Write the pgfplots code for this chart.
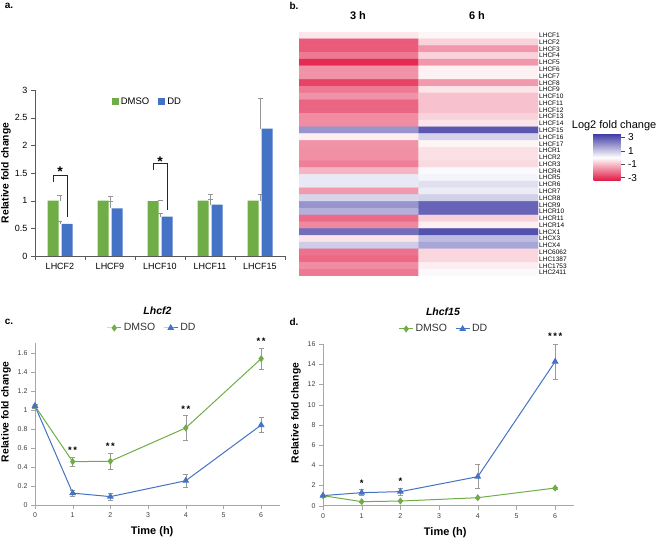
\documentclass[border=0pt]{standalone}
\usepackage{fontspec}
\setmainfont{Liberation Sans}
\usepackage{pgfplots}
\pgfplotsset{compat=1.18}
\usetikzlibrary{calc}
\definecolor{xgreen}{RGB}{112,173,71}
\definecolor{xblue}{RGB}{68,114,196}
\definecolor{errgray}{RGB}{150,150,150}
\begin{document}
\begin{tikzpicture}
\path[use as bounding box] (0,0) rectangle (657pt,538pt);
% panel labels
\node[font=\fontsize{10}{10}\selectfont\bfseries] at (9pt,532pt) {a.};
\node[font=\fontsize{10}{10}\selectfont\bfseries] at (294pt,532pt) {b.};
\node[font=\fontsize{10}{10}\selectfont\bfseries] at (9pt,216pt) {c.};
\node[font=\fontsize{10}{10}\selectfont\bfseries] at (294pt,216pt) {d.};

% ---------------- panel a ----------------
\begin{axis}[
  at={(35pt,282pt)}, anchor=south west, scale only axis,
  width=250pt, height=166pt,
  ymin=0, ymax=3, xmin=-0.5, xmax=4.5,
  axis lines*=left, axis line style={draw=black!65},
  tick style={draw=black!65}, tick align=outside, major tick length=4pt,
  ytick={0,0.5,1,1.5,2,2.5,3},
  xtick={-0.5,0.5,1.5,2.5,3.5,4.5},
  xticklabels={LHCF2,LHCF9,LHCF10,LHCF11,LHCF15},
  x tick label as interval,
  tick label style={font=\fontsize{9}{10}\selectfont},
  /pgf/number format/assume math mode=true,
  ylabel={Relative fold change},
  ylabel style={font=\fontsize{10.3}{11}\selectfont\bfseries, at={(axis description cs:-0.116,0.5)}, anchor=center},
  legend style={draw=none, fill=none, at={(axis description cs:0.45,0.93)}, anchor=center,
    legend columns=2, font=\fontsize{9.5}{10}\selectfont,
    /tikz/every even column/.append style={column sep=7pt}},
  clip=false,
]
\addplot[ybar, bar width=11pt, bar shift=-7pt, fill=xgreen, draw=none,
  legend image code/.code={\fill[xgreen] (0pt,-3.5pt) rectangle (7pt,3.5pt);},
  error bars/y dir=plus, error bars/y explicit,
  error bars/error bar style={errgray, line width=0.6pt},
  error bars/error mark options={rotate=90, errgray, mark size=2.5pt, line width=0.6pt}]
  table[x=x, y=y, y error=e] {
x y e
0 1.00 0.10
1 1.00 0.08
2 0.99 0.02
3 1.00 0.12
4 1.00 0.12
};
\addlegendentry{DMSO}
\addplot[ybar, bar width=11pt, bar shift=7pt, fill=xblue, draw=none,
  legend image code/.code={\fill[xblue] (0pt,-3.5pt) rectangle (7pt,3.5pt);},
  error bars/y dir=plus, error bars/y explicit,
  error bars/error bar style={errgray, line width=0.6pt},
  error bars/error mark options={rotate=90, errgray, mark size=2.5pt, line width=0.6pt}]
  table[x=x, y=y, y error=e] {
x y e
0 0.58 0.05
1 0.86 0.12
2 0.71 0.07
3 0.93 0.09
4 2.30 0.55
};
\addlegendentry{DD}
\draw[black!85, line width=0.8pt] (axis cs:-0.14,1.33) -- (axis cs:-0.14,1.46) -- (axis cs:0.14,1.46) -- (axis cs:0.14,0.71);
\draw[black!85, line width=0.8pt] (axis cs:1.86,1.55) -- (axis cs:1.86,1.68) -- (axis cs:2.14,1.68) -- (axis cs:2.14,0.83);
\node[font=\fontsize{14}{14}\selectfont\bfseries] at (axis cs:0,1.53) {*};
\node[font=\fontsize{14}{14}\selectfont\bfseries] at (axis cs:2,1.70) {*};
\end{axis}

% ---------------- panel b ----------------
\node[font=\fontsize{11}{11}\selectfont\bfseries] at (358pt,522pt) {3 h};
\node[font=\fontsize{11}{11}\selectfont\bfseries] at (477pt,522pt) {6 h};
\node[font=\fontsize{11}{11}\selectfont, anchor=east, inner sep=0pt] at (656.5pt,412pt) {Log2 fold change};
\begin{axis}[
  at={(299pt,262pt)}, anchor=south west, scale only axis,
  width=239pt, height=244pt,
  xmin=-0.5, xmax=1.5, ymin=-0.5, ymax=35.5, y dir=reverse,
  axis line style={draw=none}, xtick=\empty,
  ytick={0,...,35},
  yticklabels={LHCF1,LHCF2,LHCF3,LHCF4,LHCF5,LHCF6,LHCF7,LHCF8,LHCF9,LHCF10,LHCF11,LHCF12,LHCF13,LHCF14,LHCF15,LHCF16,LHCF17,LHCR1,LHCR2,LHCR3,LHCR4,LHCR5,LHCR6,LHCR7,LHCR8,LHCR9,LHCR10,LHCR11,LHCR14,LHCX1,LHCX3,LHCX4,LHC6062,LHC1387,LHC1753,LHC2411},
  yticklabel pos=right, major tick length=0pt,
  y tick label style={font=\fontsize{6.5}{6.5}\selectfont, inner xsep=1pt},
  colormap={hm}{rgb255(0cm)=(225,20,65); rgb255(1cm)=(255,255,255); rgb255(2cm)=(65,60,165)},
  point meta min=-3.5, point meta max=3.5,
  colorbar, colorbar/width=27pt,
  colorbar style={
    at={($(parent axis.north east)+(47pt,-102pt)$)}, anchor=north west,
    scale only axis, width=27pt, height=47pt,
    ytick={-3,-1,1,3}, yticklabel pos=right, ytick pos=right,
    axis line style={draw=none},
    tick style={draw=black!70, line width=0.5pt}, major tick length=4pt, tick align=outside,
    y tick label style={font=\fontsize{10}{10}\selectfont},
    /pgf/number format/assume math mode=true,
  },
]
\addplot[matrix plot*, mesh/cols=2, point meta=explicit] table[meta=c] {
x y c
0 0 -0.35
1 0 -0.15
0 1 -2.45
1 1 -0.65
0 2 -2.45
1 2 -1.55
0 3 -2.0
1 3 -0.65
0 4 -3.15
1 4 -1.55
0 5 -1.6
1 5 -0.2
0 6 -1.6
1 6 -0.2
0 7 -2.8
1 7 -1.5
0 8 -2.0
1 8 -0.4
0 9 -1.6
1 9 -0.9
0 10 -2.3
1 10 -0.9
0 11 -2.3
1 11 -0.9
0 12 -1.7
1 12 -0.65
0 13 -1.7
1 13 -0.4
0 14 1.9
1 14 3.0
0 15 -0.25
1 15 0.8
0 16 -1.6
1 16 -0.15
0 17 -1.65
1 17 -0.45
0 18 -1.65
1 18 -0.45
0 19 -1.9
1 19 -0.55
0 20 -1.1
1 20 0.1
0 21 0.4
1 21 0.2
0 22 0.4
1 22 0.55
0 23 -1.5
1 23 0.35
0 24 0.75
1 24 0.85
0 25 1.9
1 25 2.8
0 26 1.4
1 26 2.8
0 27 -2.2
1 27 -0.65
0 28 -1.75
1 28 -0.25
0 29 2.6
1 29 3.15
0 30 -0.4
1 30 1.2
0 31 0.9
1 31 1.6
0 32 -2.1
1 32 -0.6
0 33 -2.25
1 33 -0.6
0 34 -1.7
1 34 -0.25
0 35 -2.0
1 35 0.1
};
\end{axis}

% ---------------- panel c ----------------
\begin{axis}[
  at={(35pt,33pt)}, anchor=south west, scale only axis,
  width=245pt, height=161.8pt,
  xmin=0, xmax=6.5, ymin=0, ymax=1.7,
  axis lines*=left, axis line style={draw=black!35},
  tick style={draw=black!35}, tick align=outside, major tick length=4pt,
  xtick={0,1,2,3,4,5,6}, ytick={0,0.2,0.4,0.6,0.8,1,1.2,1.4,1.6},
  tick label style={font=\fontsize{7}{8}\selectfont, text=black!75},
  /pgf/number format/assume math mode=true,
  xlabel={Time (h)},
  xlabel style={font=\fontsize{11}{11}\selectfont\bfseries, at={(axis description cs:0.478,-0.165)}, anchor=center},
  ylabel={Relative fold change},
  ylabel style={font=\fontsize{10.3}{11}\selectfont\bfseries, at={(axis description cs:-0.118,0.575)}, anchor=center},
  legend style={draw=none, fill=none, at={(axis description cs:0.478,1.094)}, anchor=center,
    legend columns=2, font=\fontsize{10.5}{11}\selectfont, text=black!80,
    /tikz/every even column/.append style={column sep=6pt}},
  legend image code/.code={\draw[mark repeat=2,mark phase=2,#1] plot coordinates {(0pt,0pt) (7pt,0pt) (14pt,0pt)};},
  clip=false,
]
\addplot[xgreen, line width=1pt, mark=diamond*, mark size=2.8pt,
  error bars/y dir=both, error bars/y explicit,
  error bars/error bar style={black!40, line width=0.5pt},
  error bars/error mark options={rotate=90, black!40, mark size=2.5pt, line width=0.5pt}]
  table[x=x, y=y, y error=e] {
x y e
0 1.04 0.02
1 0.455 0.05
2 0.46 0.087
4 0.81 0.13
6 1.537 0.115
};
\addlegendentry{DMSO}
\addplot[xblue, line width=1pt, mark=triangle*, mark size=3pt,
  error bars/y dir=both, error bars/y explicit,
  error bars/error bar style={black!40, line width=0.5pt},
  error bars/error mark options={rotate=90, black!40, mark size=2.5pt, line width=0.5pt}]
  table[x=x, y=y, y error=e] {
x y e
0 1.04 0.02
1 0.125 0.035
2 0.088 0.035
4 0.255 0.07
6 0.84 0.08
};
\addlegendentry{DD}
\node[font=\fontsize{9.5}{10}\selectfont\bfseries] at (axis cs:1,0.58) {*\,*};
\node[font=\fontsize{9.5}{10}\selectfont\bfseries] at (axis cs:2,0.62) {*\,*};
\node[font=\fontsize{9.5}{10}\selectfont\bfseries] at (axis cs:4,1.01) {*\,*};
\node[font=\fontsize{9.5}{10}\selectfont\bfseries] at (axis cs:6,1.72) {*\,*};
\node[font=\fontsize{10.5}{11}\selectfont\bfseries\itshape] at (axis description cs:0.5,1.2) {Lhcf2};
\end{axis}

% ---------------- panel d ----------------
\begin{axis}[
  at={(323pt,32.3pt)}, anchor=south west, scale only axis,
  width=251.5pt, height=161.7pt,
  xmin=0, xmax=6.5, ymin=0, ymax=16,
  axis lines*=left, axis line style={draw=black!35},
  tick style={draw=black!35}, tick align=outside, major tick length=4pt,
  xtick={0,1,2,3,4,5,6}, ytick={0,2,4,6,8,10,12,14,16},
  tick label style={font=\fontsize{7}{8}\selectfont, text=black!75},
  /pgf/number format/assume math mode=true,
  xlabel={Time (h)},
  xlabel style={font=\fontsize{11}{11}\selectfont\bfseries, at={(axis description cs:0.486,-0.165)}, anchor=center},
  ylabel={Relative fold change},
  ylabel style={font=\fontsize{10.3}{11}\selectfont\bfseries, at={(axis description cs:-0.107,0.573)}, anchor=center},
  legend style={draw=none, fill=none, at={(axis description cs:0.481,1.093)}, anchor=center,
    legend columns=2, font=\fontsize{10.5}{11}\selectfont, text=black!80,
    /tikz/every even column/.append style={column sep=6pt}},
  legend image code/.code={\draw[mark repeat=2,mark phase=2,#1] plot coordinates {(0pt,0pt) (7pt,0pt) (14pt,0pt)};},
  clip=false,
]
\addplot[xgreen, line width=1pt, mark=diamond*, mark size=2.8pt,
  error bars/y dir=both, error bars/y explicit,
  error bars/error bar style={black!40, line width=0.5pt},
  error bars/error mark options={rotate=90, black!40, mark size=2.5pt, line width=0.5pt}]
  table[x=x, y=y, y error=e] {
x y e
0 0.99 0.05
1 0.40 0.05
2 0.46 0.05
4 0.79 0.05
6 1.75 0.08
};
\addlegendentry{DMSO}
\addplot[xblue, line width=1pt, mark=triangle*, mark size=3pt,
  error bars/y dir=both, error bars/y explicit,
  error bars/error bar style={black!40, line width=0.5pt},
  error bars/error mark options={rotate=90, black!40, mark size=2.5pt, line width=0.5pt}]
  table[x=x, y=y, y error=e] {
x y e
0 1.00 0.05
1 1.29 0.30
2 1.39 0.33
4 2.87 1.19
6 14.26 1.70
};
\addlegendentry{DD}
\node[font=\fontsize{9.5}{10}\selectfont\bfseries] at (axis cs:1,2.2) {*};
\node[font=\fontsize{9.5}{10}\selectfont\bfseries] at (axis cs:2,2.4) {*};
\node[font=\fontsize{9.5}{10}\selectfont\bfseries] at (axis cs:6,16.8) {*\,*\,*};
\node[font=\fontsize{10.5}{11}\selectfont\bfseries\itshape] at (axis description cs:0.477,1.197) {Lhcf15};
\end{axis}
\end{tikzpicture}
\end{document}
